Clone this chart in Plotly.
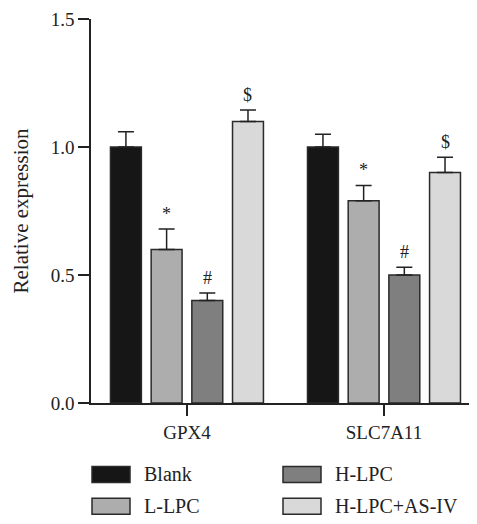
import plotly.graph_objects as go

genes = ["GPX4", "SLC7A11"]
groups = ["Blank", "L-LPC", "H-LPC", "H-LPC+AS-IV"]
colors = ["#161616", "#adadad", "#7f7f7f", "#d9d9d9"]
blank = [1.0, 1.0]
l_lpc = [0.60, 0.79]
h_lpc = [0.40, 0.50]
h_lpc_asiv = [1.10, 0.90]
blank_err = [0.06, 0.05]
l_lpc_err = [0.08, 0.06]
h_lpc_err = [0.03, 0.03]
h_lpc_asiv_err = [0.045, 0.06]
marks = ["", "*", "#", "$"]

values = [blank, l_lpc, h_lpc, h_lpc_asiv]
errors = [blank_err, l_lpc_err, h_lpc_err, h_lpc_asiv_err]

FONT = "Liberation Serif"
OFF = 8  # page body margin
W, H = 477 - OFF, 524 - OFF
ML, MR, MT, MB = 91 - OFF, 1, 16 - OFF, 121
BARGAP = 0.174
GROUPGAP = 0.24

fig = go.Figure()
for name, col, v, e in zip(groups, colors, values, errors):
    fig.add_trace(go.Bar(
        x=genes, y=v, name=name,
        marker=dict(color=col, line=dict(color="#2a2a2a", width=1.5)),
        error_y=dict(type="data", array=e, arrayminus=[0] * len(e), symmetric=False,
                     color="#222222", thickness=1.5, width=8),
        showlegend=False,
    ))

# significance marks
slot = (1 - BARGAP) / len(groups)
annotations = []
for gi in range(len(genes)):
    for si, m in enumerate(marks):
        if not m:
            continue
        xpos = gi + (si - (len(groups) - 1) / 2) * slot
        annotations.append(dict(
            x=xpos, y=values[si][gi] + errors[si][gi], xref="x", yref="y",
            text=m, showarrow=False, yanchor="bottom", yshift=3,
            font=dict(family=FONT, size=18, color="#222222"),
        ))

# custom legend (positions given in page pixels of the reference)
pw = W - ML - MR
ph = H - MT - MB
def px_x(p):
    return (p - OFF - ML) / pw
def px_y(p):
    return (H - MB - (p - OFF)) / ph

legend_layout = [
    (0, 92, 467), (1, 92, 499), (2, 283, 467), (3, 283, 499),
]
shapes = []
for si, lx, ty in legend_layout:
    shapes.append(dict(type="rect", xref="paper", yref="paper",
                       x0=px_x(lx), x1=px_x(lx + 38), y0=px_y(ty + 16), y1=px_y(ty),
                       fillcolor=colors[si], line=dict(color="#2a2a2a", width=1.5)))
    annotations.append(dict(x=px_x(lx + 50), y=px_y(ty + 8), xref="paper", yref="paper",
                            text=groups[si], showarrow=False, xanchor="left", yanchor="middle",
                            font=dict(family=FONT, size=20, color="#222222")))

fig.update_layout(
    width=W, height=H,
    margin=dict(l=ML, r=MR, t=MT, b=MB),
    plot_bgcolor="white", paper_bgcolor="white",
    barmode="group", bargap=BARGAP, bargroupgap=GROUPGAP,
    font=dict(family=FONT, size=19, color="#222222"),
    annotations=annotations, shapes=shapes,
)
fig.update_xaxes(
    range=[-0.487, 1.467], showline=True, linecolor="#222222", linewidth=1.5,
    ticks="outside", ticklen=11, tickwidth=1.5, tickcolor="#222222",
    tickfont=dict(family=FONT, size=19, color="#222222"),
)
fig.update_yaxes(
    range=[0, 1.5], dtick=0.5, tickformat=".1f", showgrid=False, zeroline=False,
    showline=True, linecolor="#222222", linewidth=1.5,
    ticks="outside", ticklen=11, tickwidth=1.5, tickcolor="#222222",
    ticklabeloverflow="allow",
    tickfont=dict(family=FONT, size=19, color="#222222"),
    title=dict(text="Relative expression", font=dict(family=FONT, size=21, color="#222222"), standoff=16),
)

fig.write_html("out.html")
